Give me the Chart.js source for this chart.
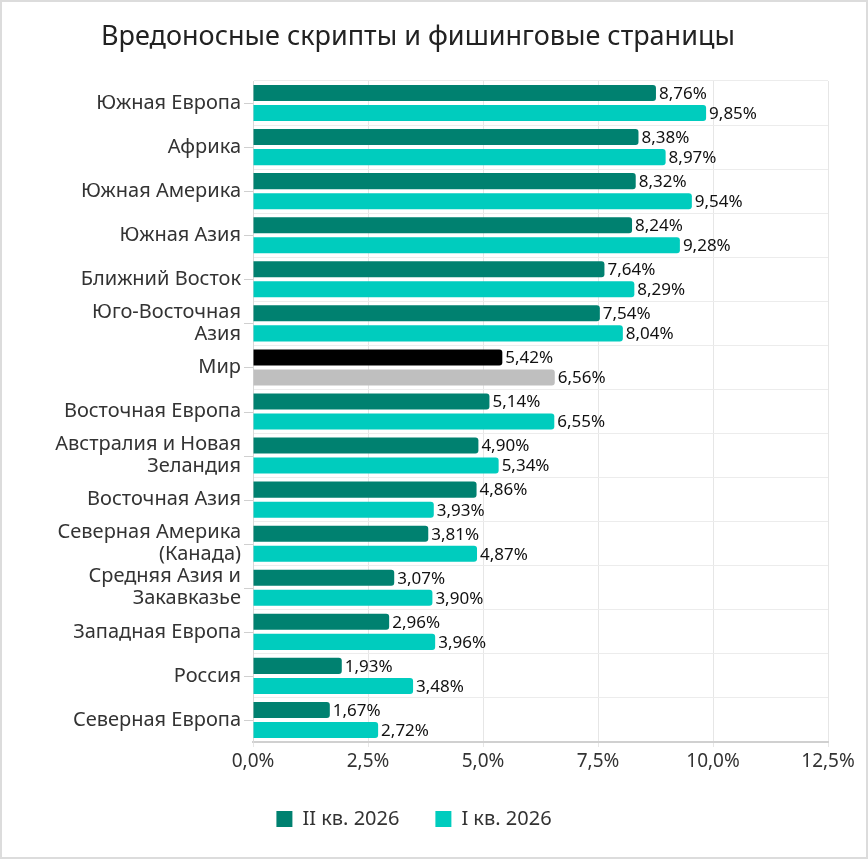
<!DOCTYPE html>
<html>
<head>
<meta charset="utf-8">
<script src="https://cdn.jsdelivr.net/npm/chart.js@4.4.1/dist/chart.umd.min.js"></script>
<style>
  html, body { margin: 0; padding: 0; background: #fff; }
  #wrap { width: 868px; height: 859px; position: relative; }
</style>
</head>
<body>
<div id="wrap"><canvas id="c" width="868" height="859"></canvas></div>
<script>
const chartTitle = 'Вредоносные скрипты и фишинговые страницы';
const categories = [
  'Южная Европа',
  'Африка',
  'Южная Америка',
  'Южная Азия',
  'Ближний Восток',
  ['Юго-Восточная', 'Азия'],
  'Мир',
  'Восточная Европа',
  ['Австралия и Новая', 'Зеландия'],
  'Восточная Азия',
  ['Северная Америка', '(Канада)'],
  ['Средняя Азия и', 'Закавказье'],
  'Западная Европа',
  'Россия',
  'Северная Европа'
];
const seriesNames = ['II кв. 2026', 'I кв. 2026'];
const q2Values = [8.76, 8.38, 8.32, 8.24, 7.64, 7.54, 5.42, 5.14, 4.90, 4.86, 3.81, 3.07, 2.96, 1.93, 1.67];
const q1Values = [9.85, 8.97, 9.54, 9.28, 8.29, 8.04, 6.56, 6.55, 5.34, 3.93, 4.87, 3.90, 3.96, 3.48, 2.72];
const xTicks = [0, 2.5, 5, 7.5, 10, 12.5];

const FONT = '"Noto Sans", sans-serif';
const C_DARK = '#008170';
const C_LIGHT = '#00CCBE';
const C_WORLD_DARK = '#000000';
const C_WORLD_LIGHT = '#BFBFBF';
const worldIdx = 6;

const colorsQ2 = categories.map((c, i) => i === worldIdx ? C_WORLD_DARK : C_DARK);
const colorsQ1 = categories.map((c, i) => i === worldIdx ? C_WORLD_LIGHT : C_LIGHT);

const fmtPct = (v, d) => v.toFixed(d).replace('.', ',') + '%';

const extrasPlugin = {
  id: 'extras',
  afterDatasetsDraw(chart) {
    const ctx = chart.ctx;
    ctx.save();
    ctx.font = '17px ' + FONT;
    ctx.fillStyle = '#111';
    ctx.textAlign = 'left';
    ctx.textBaseline = 'middle';
    chart.data.datasets.forEach((ds, di) => {
      const meta = chart.getDatasetMeta(di);
      meta.data.forEach((el, i) => {
        ctx.fillText(fmtPct(ds.data[i], 2), el.x + 3, el.y + 1);
      });
    });
    const y = chart.scales.y;
    ctx.strokeStyle = '#d0d0d0';
    ctx.lineWidth = 1;
    categories.forEach((c, i) => {
      const py = Math.round(y.getPixelForValue(i)) + 0.5;
      ctx.beginPath();
      ctx.moveTo(y.right - 9, py);
      ctx.lineTo(y.right, py);
      ctx.stroke();
    });
    ctx.restore();
  },
  afterDraw(chart) {
    const ctx = chart.ctx;
    ctx.save();
    ctx.font = '27px ' + FONT;
    ctx.fillStyle = '#222';
    ctx.textAlign = 'center';
    ctx.textBaseline = 'middle';
    ctx.fillText(chartTitle, 418, 37);
    ctx.strokeStyle = '#dcdcdc';
    ctx.lineWidth = 2;
    ctx.strokeRect(1, 1, chart.width - 2, chart.height - 2);
    ctx.restore();
  }
};

new Chart(document.getElementById('c'), {
  type: 'bar',
  data: {
    labels: categories,
    datasets: [
      { label: seriesNames[0], data: q2Values, backgroundColor: colorsQ2, borderRadius: 3, borderSkipped: 'start', categoryPercentage: 0.91, barPercentage: 0.8 },
      { label: seriesNames[1], data: q1Values, backgroundColor: colorsQ1, borderRadius: 3, borderSkipped: 'start', categoryPercentage: 0.91, barPercentage: 0.8 }
    ]
  },
  options: {
    indexAxis: 'y',
    responsive: false,
    animation: false,
    devicePixelRatio: 1,
    layout: { padding: { top: 81, bottom: 20, left: 0, right: 40 } },
    scales: {
      x: {
        min: 0, max: 12.5,
        afterBuildTicks(s) { s.ticks = xTicks.map(v => ({ value: v })); },
        afterFit(s) { s.height = 31; },
        grid: { color: '#e6e6e6', tickLength: 5, drawTicks: true },
        border: { color: '#d0d0d0', width: 2 },
        ticks: { padding: 3, color: '#333', font: { family: FONT, size: 19 }, callback: v => fmtPct(v, 1) }
      },
      y: {
        afterFit(s) { s.width = 253; },
        grid: { color: '#ececec', offset: true, drawTicks: false },
        border: { color: '#d9d9d9', width: 1 },
        ticks: { autoSkip: false, padding: 12, color: '#333', font: { family: FONT, size: 20, lineHeight: 1.1 } }
      }
    },
    plugins: {
      title: { display: false },
      tooltip: { enabled: false },
      legend: {
        position: 'bottom',
        labels: { boxWidth: 16, boxHeight: 16, padding: 36, color: '#333', font: { family: FONT, size: 20 } }
      }
    }
  },
  plugins: [extrasPlugin]
});
</script>
</body>
</html>
